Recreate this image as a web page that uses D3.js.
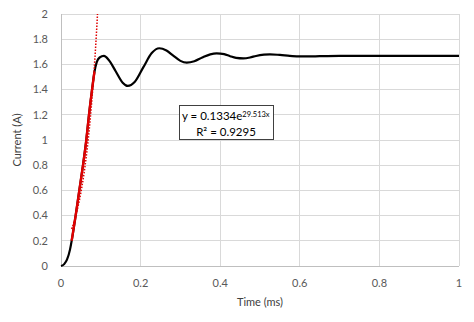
<!DOCTYPE html>
<html><head><meta charset="utf-8">
<script src="https://cdn.jsdelivr.net/npm/d3@7"></script>
<style>body{margin:0;background:#fff}svg{display:block}text{font-family:Lato,"Open Sans",sans-serif}</style>
</head><body><svg id="c" width="474" height="322"></svg>
<script>
const timeMs = [0,0.008,0.015,0.0226,0.0268,0.0368,0.046,0.0553,0.0636,0.0703,0.078,0.084,0.09,0.097,0.108,0.12,0.137,0.155,0.1676,0.185,0.207,0.228,0.247,0.265,0.282,0.3,0.316,0.335,0.355,0.375,0.391,0.41,0.425,0.44,0.458,0.475,0.49,0.51,0.525,0.55,0.575,0.6,0.65,0.7,0.8,0.9,1.0];
const current = [0,0.015,0.05,0.13,0.2,0.4,0.6,0.8,1.0,1.2,1.4,1.54,1.62,1.655,1.667,1.635,1.548,1.455,1.429,1.46,1.578,1.69,1.728,1.71,1.67,1.628,1.614,1.625,1.655,1.68,1.688,1.682,1.665,1.652,1.648,1.655,1.667,1.677,1.68,1.675,1.668,1.663,1.665,1.668,1.668,1.668,1.668];
const fitRange = [0.0268, 0.084];
const trendCoef = [0.1334, 29.513];
const trendLabel = ["y = 0.1334e", "29.513x", "R\u00b2 = 0.9295"];
const xTicks = [0,0.2,0.4,0.6,0.8,1];
const yTicks = [0,0.2,0.4,0.6,0.8,1,1.2,1.4,1.6,1.8,2];
const xTitle = "Time (ms)", yTitle = "Current (A)";

const svg = d3.select("#c");
const L=61,R=459,T=14,B=266;
const x = d3.scaleLinear().domain([0,1]).range([L,R]);
const y = d3.scaleLinear().domain([0,2]).range([B,T]);

// gridlines
svg.append("g").selectAll("line").data(yTicks).join("line")
  .attr("x1",L).attr("x2",R).attr("y1",d=>y(d)).attr("y2",d=>y(d))
  .attr("stroke","#d9d9d9").attr("stroke-width",1).attr("shape-rendering","crispEdges");
svg.append("g").selectAll("line").data(xTicks).join("line")
  .attr("y1",T).attr("y2",B).attr("x1",d=>x(d)).attr("x2",d=>x(d))
  .attr("stroke","#d9d9d9").attr("stroke-width",1).attr("shape-rendering","crispEdges");
svg.append("line").attr("x1",L).attr("x2",R).attr("y1",B).attr("y2",B).attr("stroke","#bfbfbf").attr("shape-rendering","crispEdges");
svg.append("line").attr("x1",L).attr("x2",L).attr("y1",T).attr("y2",B).attr("stroke","#bfbfbf").attr("shape-rendering","crispEdges");

// tick labels
svg.append("g").selectAll("text").data(yTicks).join("text")
  .attr("x",48).attr("y",d=>y(d)).attr("dy","0.35em").attr("text-anchor","end")
  .attr("font-size",11).attr("fill","#595959").text(d=>String(+d.toFixed(1)));
svg.append("g").selectAll("text").data(xTicks).join("text")
  .attr("x",d=>x(d)).attr("y",283).attr("dy","0.35em").attr("text-anchor","middle")
  .attr("font-size",11).attr("fill","#595959").text(d=>String(+d.toFixed(1)));

// titles
svg.append("text").attr("x",(L+R)/2).attr("y",302).attr("dy","0.35em").attr("text-anchor","middle")
  .attr("font-size",11).attr("fill","#404040").text(xTitle);
svg.append("text").attr("transform",`translate(17,${(T+B)/2}) rotate(-90)`).attr("dy","0.35em").attr("text-anchor","middle")
  .attr("font-size",11).attr("fill","#404040").text(yTitle);

const data = timeMs.map((t,i)=>({t,v:current[i]}));
const line = d3.line().x(d=>x(d.t)).y(d=>y(d.v)).curve(d3.curveMonotoneX);

svg.append("defs").append("clipPath").attr("id","clip").append("rect").attr("x",L).attr("y",T).attr("width",R-L).attr("height",B-T);

svg.append("path").datum(data).attr("d",line).attr("fill","none").attr("stroke","#000").attr("stroke-width",2.2);
svg.append("path").datum(data.filter(d=>d.t>=fitRange[0]&&d.t<=fitRange[1]+0.0001)).attr("d",line)
  .attr("fill","none").attr("stroke","#e00000").attr("stroke-width",2.4);

// trendline
const tEnd = Math.log(2/trendCoef[0])/trendCoef[1];
const trend = d3.range(0,41).map(i=>{const t=fitRange[0]+(tEnd-fitRange[0])*i/40;return {t,v:trendCoef[0]*Math.exp(trendCoef[1]*t)};});
svg.append("path").datum(trend).attr("d",d3.line().x(d=>x(d.t)).y(d=>y(d.v))).attr("clip-path","url(#clip)")
  .attr("fill","none").attr("stroke","#e00000").attr("stroke-width",1.5).attr("stroke-dasharray","1.5,1.5");

// label box
const g = svg.append("g");
g.append("rect").attr("x",179.5).attr("y",105.5).attr("width",94).attr("height",34)
  .attr("fill","#fff").attr("stroke","#404040").attr("stroke-width",1);
const t1 = g.append("text").attr("x",182).attr("y",116).attr("dy","0.35em").attr("font-size",11.5).attr("fill","#000");
t1.append("tspan").text(trendLabel[0]);
t1.append("tspan").attr("font-size",7.5).attr("dy","-0.45em").text(trendLabel[1]);
g.append("text").attr("x",226).attr("y",132).attr("dy","0.35em").attr("text-anchor","middle").attr("font-size",11.5).attr("fill","#000").text(trendLabel[2]);
</script></body></html>
